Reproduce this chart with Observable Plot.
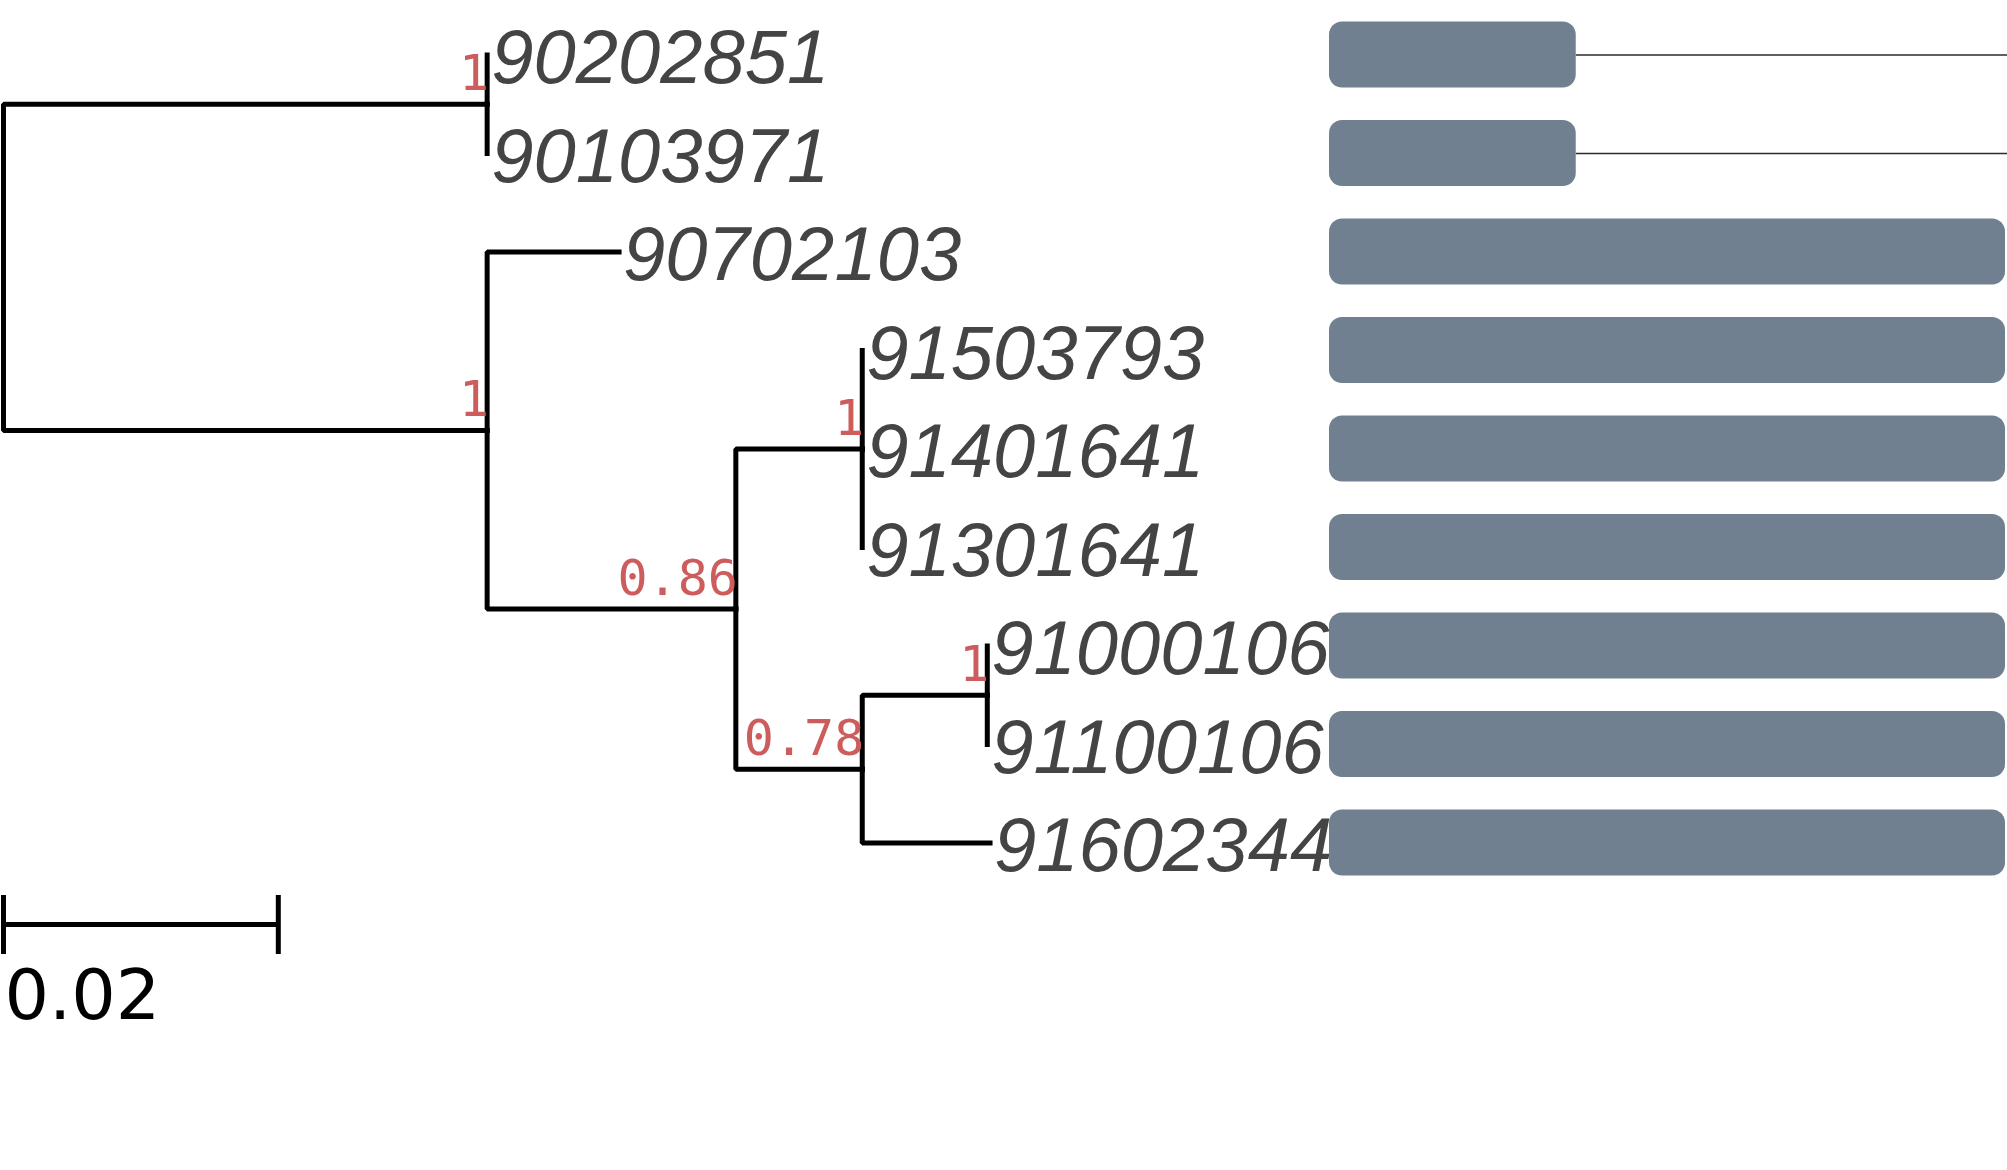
<!DOCTYPE html>
<html><head><meta charset="utf-8">
<script src="https://cdn.jsdelivr.net/npm/d3@7"></script>
<script src="https://cdn.jsdelivr.net/npm/@observablehq/plot@0.6"></script>
<style>
html,body{margin:0;padding:0;background:#fff;}
#wrap{position:relative;width:2007px;height:1170px;overflow:hidden;background:#fff;}
#wrap svg{position:absolute;left:0;top:0;overflow:visible;background:transparent;}
</style></head><body><div id="wrap"></div>
<script>
// ---- tree data ----
const nodeIds = ["root","A","90202851","90103971","B","90702103","n86","n1","91503793","91401641","91301641","n78","n2","91000106","91100106","91602344"];
const parentIds = [null,"root","A","A","root","B","B","n86","n1","n1","n1","n86","n78","n2","n2","n78"];
const branchLengths = [0,0.0352,0,0,0.0352,0.0096,0.0181,0.0092,0,0,0,0.0092,0.0091,0,0,0.0093];
const supportValues = [null,1,null,null,1,null,0.86,1,null,null,null,0.78,1,null,null,null];
// ---- alignment / coverage bars (per tip, in tree order) ----
const barTips = ["90202851","90103971","90702103","91503793","91401641","91301641","91000106","91100106","91602344"];
const barEnd = [365,365,1000,1000,1000,1000,1000,1000,1000];
const lineEnd = [1003,1003,null,null,null,null,null,null,null];
const scaleBarLength = 0.02;

// ---- layout (rectangular phylogram) ----
const byId = new Map();
nodeIds.forEach((id,i)=>byId.set(id,{id,parent:parentIds[i],length:branchLengths[i],support:supportValues[i],children:[]}));
for (const n of byId.values()) if (n.parent) byId.get(n.parent).children.push(n);
const root = byId.get("root");
let row = 0;
function layout(n, x){
  n.x = x;
  if (!n.children.length) { n.y = row++; }
  else {
    n.children.forEach(c => layout(c, x + c.length));
    n.y = (n.children[0].y + n.children[n.children.length-1].y) / 2;
  }
}
layout(root, 0);
const all = [...byId.values()];
const edges = all.filter(n => n.parent).map(n => {
  const p = byId.get(n.parent);
  return {x1: p.x, y1: p.y, x2: n.x, y2: n.y};
});
const tips = all.filter(n => !n.children.length);
const supported = all.filter(n => n.support != null);

const tree = Plot.plot({
  width: 2007, height: 1170,
  x: {domain: [0, 0.1], range: [3, 1377], axis: null},
  y: {domain: [0, 8], range: [54.5, 842.5], axis: null},
  style: {background: "transparent", overflow: "visible"},
  marks: [
    Plot.link(edges, {x1: "x1", y1: "y1", x2: "x2", y2: "y2", curve: "step-before",
      stroke: "black", strokeWidth: 5, strokeLinecap: "square"}),
    Plot.text(supported, {x: "x", y: "y", text: d => String(d.support), textAnchor: "end",
      lineAnchor: "bottom", dx: 2, dy: -14.5, fill: "#CD5C5C", fontSize: 50, fontFamily: "DejaVu Sans Mono, monospace"}),
    Plot.text(tips, {x: "x", y: "y", text: "id", textAnchor: "start", lineAnchor: "bottom",
      dx: 4, dy: 28, fill: "#444444", fontSize: 76, fontStyle: "italic", fontFamily: "Liberation Sans, Arial, sans-serif"}),
    Plot.ruleY([scaleBarLength], {x1: 0, x2: d => d, y: 8.827, stroke: "black", strokeWidth: 5}),
    Plot.ruleX([0, scaleBarLength], {x: d => d, y1: 8.533, y2: 9.132, stroke: "black", strokeWidth: 5}),
    Plot.text([scaleBarLength], {x: 0, y: 9.782, text: d => String(d), textAnchor: "start", lineAnchor: "bottom",
      dx: 1, fill: "black", fontSize: 70, fontFamily: "DejaVu Sans"})
  ]
});

const barData = barTips.map((t,i) => ({tip: t, end: barEnd[i], lineEnd: lineEnd[i]}));
const bars = Plot.plot({
  width: 2007, height: 1170,
  x: {domain: [0, 1000], range: [1329, 2005], axis: null},
  y: {type: "band", domain: barTips, range: [5.25, 891.75], paddingInner: 0.33, paddingOuter: 0.165, round: false, axis: null},
  style: {background: "transparent", overflow: "visible"},
  marks: [
    Plot.ruleY(barData.filter(d => d.lineEnd != null), {y: "tip", x1: "end", x2: "lineEnd", stroke: "#2b2b2b", strokeWidth: 1.6}),
    Plot.barX(barData, {y: "tip", x1: 0, x2: "end", fill: "#708090", rx: 13})
  ]
});
const wrap = document.getElementById("wrap");
wrap.appendChild(tree);
wrap.appendChild(bars);
</script></body></html>
